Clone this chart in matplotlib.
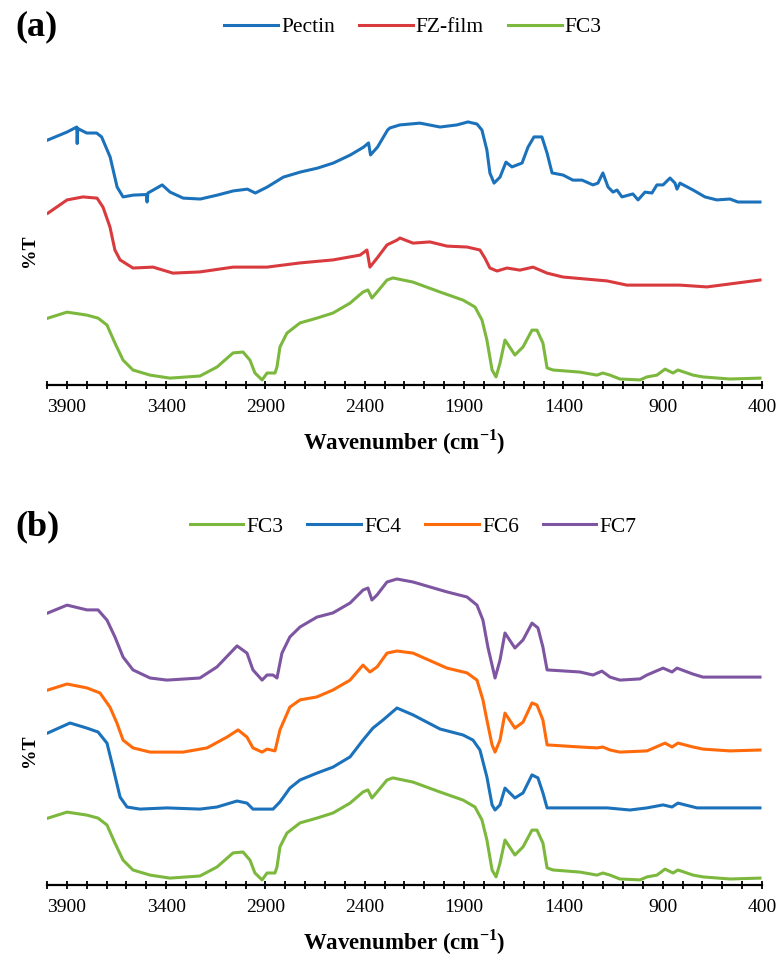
import matplotlib.pyplot as plt
from matplotlib.ticker import MultipleLocator, FixedLocator

plt.rcParams['font.family'] = 'Liberation Serif'
plt.rcParams['mathtext.fontset'] = 'custom'
plt.rcParams['mathtext.rm'] = 'Liberation Serif'
plt.rcParams['mathtext.bf'] = 'Liberation Serif:bold'

# FTIR spectra, wavenumber (cm-1) and stacked %T (arbitrary offset units)
pectin_wn = [3995, 3900, 3850, 3848, 3845, 3800, 3750, 3725, 3682, 3647, 3617, 3566, 3500, 3496, 3492,
             3465, 3420, 3380, 3314, 3228, 3143, 3062, 2991, 2951, 2891, 2810, 2724, 2638, 2558, 2472,
             2406, 2381, 2371, 2336, 2285, 2273, 2223, 2122, 2021, 1936, 1880, 1835, 1810, 1785,
             1770, 1749, 1719, 1689, 1659, 1608, 1578, 1548, 1508, 1482, 1457, 1402, 1352, 1306,
             1251, 1226, 1201, 1175, 1150, 1130, 1105, 1050, 1024, 989, 954, 929, 898, 863, 838, 828,
             813, 747, 687, 627, 561, 521, 476, 410]
pectin_t = [81.7, 84.3, 86, 80.5, 85.5, 84, 84, 82.7, 76, 66, 62.7, 63.3, 63.5, 61, 64,
            65, 66.7, 64.3, 62.3, 62, 63.3, 64.7, 65.3, 64, 66, 69.3, 71, 72.3, 74, 76.7,
            79.3, 80.7, 76.7, 79.3, 85, 85.7, 86.7, 87.3, 86, 86.7, 87.7, 87, 85, 78.3,
            70.7, 67.3, 69.3, 74.3, 72.7, 74, 79.3, 82.7, 82.7, 77.3, 70.7, 70, 68.3, 68.3,
            66.7, 67.3, 70.7, 66, 64.3, 65, 62.7, 63.7, 61.7, 64.3, 64, 66.7, 66.7, 69, 67.3, 65.3,
            67.3, 65, 62.7, 61.7, 62, 61, 61, 61]

fz_wn = [3995, 3899, 3819, 3748, 3718, 3683, 3658, 3632, 3567, 3466, 3366, 3230, 3063, 2963,
         2892, 2726, 2560, 2424, 2389, 2374, 2338, 2288, 2238, 2223, 2157, 2072, 1986, 1885,
         1820, 1795, 1770, 1734, 1684, 1619, 1553, 1482, 1402, 1180, 1080, 979, 813, 677, 561, 410]
fz_t = [57.3, 61.7, 62.7, 62.3, 59.3, 52.7, 45, 41.7, 39, 39.3, 37.3, 37.7, 39.3, 39.3,
        39.3, 40.7, 41.7, 43.3, 45, 39.3, 42.3, 46.7, 48.3, 49, 47.3, 47.7, 46.3, 46,
        45, 42.3, 39, 38, 39, 38.3, 39.3, 37.3, 36, 34.7, 33.3, 33.3, 33.3, 32.7, 33.7, 35]

fc3_wn = [3995, 3899, 3799, 3743, 3698, 3658, 3617, 3567, 3481, 3381, 3230, 3144, 3063, 3013,
          2978, 2953, 2917, 2892, 2852, 2842, 2827, 2792, 2726, 2641, 2560, 2474, 2409, 2384,
          2364, 2338, 2288, 2258, 2157, 2021, 1905, 1845, 1810, 1785, 1759, 1739, 1719, 1694,
          1644, 1603, 1558, 1533, 1503, 1482, 1452, 1316, 1231, 1201, 1165, 1115, 1014, 979,
          929, 888, 848, 823, 747, 697, 561, 410]
fc3_t = [22.3, 24.3, 23.3, 22.3, 20, 14, 8.3, 5, 3.3, 2.3, 3, 6, 10.7, 11,
         8.3, 4, 1.7, 4, 4, 6, 12.7, 17.3, 20.7, 22.3, 24, 27.3, 31, 31.7,
         29, 31, 35, 35.7, 34.3, 31, 28.3, 26, 21.7, 15, 5, 2.7, 7.3, 15,
         10, 12.7, 18.3, 18.3, 14, 5.7, 5, 4.3, 3.3, 4, 3.3, 2, 1.7, 2.7,
         3.3, 5.3, 4, 5, 3.3, 2.7, 2, 2.3]

fc4_wn = [3995, 3884, 3799, 3743, 3698, 3668, 3632, 3597, 3532, 3396, 3230, 3144, 3043, 2993,
          2963, 2862, 2827, 2777, 2726, 2641, 2560, 2474, 2409, 2359, 2308, 2238, 2157, 2021,
          1905, 1855, 1820, 1785, 1759, 1744, 1719, 1694, 1644, 1603, 1558, 1528, 1503, 1482,
          1316, 1180, 1065, 979, 898, 853, 823, 727, 410]
fc4_t = [50.7, 54, 52.3, 51, 47.3, 39.3, 29.3, 26, 25.3, 25.7, 25.3, 26, 28, 27.3,
         25.3, 25.3, 27.7, 32.3, 35, 37.3, 39.3, 42.7, 48.3, 52.3, 55, 59, 56.7, 52,
         50, 48.3, 45, 36, 26.7, 25, 26.7, 32.3, 29, 30.7, 36.7, 35.7, 30.7, 25.7,
         25.7, 25.7, 25, 25.7, 26.7, 26, 27.3, 25.7, 25.7]

fc6_wn = [3995, 3899, 3799, 3733, 3683, 3648, 3617, 3567, 3481, 3315, 3194, 3094, 3038, 2993,
          2963, 2917, 2892, 2852, 2827, 2777, 2726, 2641, 2560, 2474, 2409, 2374, 2338, 2288,
          2238, 2157, 1986, 1885, 1835, 1805, 1785, 1759, 1744, 1719, 1694, 1644, 1603, 1558,
          1533, 1503, 1482, 1316, 1231, 1201, 1165, 1115, 979, 888, 853, 823, 747, 697, 561, 410]
fc6_t = [65, 67, 65.7, 64, 59.3, 54, 48.3, 45.7, 44.3, 44.3, 45.7, 49.3, 51.7, 49.3,
         45.7, 44.3, 45.3, 44.7, 51.7, 59.3, 61.7, 62.7, 65, 68.3, 73.3, 71, 72.7, 77.3,
         78, 77.3, 72.3, 70.7, 68.3, 61.7, 55, 46.7, 44.3, 48.3, 57.3, 52.3, 54.3, 60.7,
         60, 55, 46.7, 46, 45.7, 46, 45, 44.3, 44.7, 47.3, 46, 47.3, 46, 45.3, 44.7, 45]

fc7_wn = [3995, 3899, 3799, 3743, 3698, 3658, 3617, 3567, 3481, 3396, 3230, 3144, 3043, 2993,
          2963, 2917, 2892, 2862, 2842, 2817, 2777, 2726, 2641, 2560, 2474, 2409, 2384, 2364,
          2338, 2288, 2238, 2157, 1986, 1885, 1835, 1805, 1780, 1744, 1719, 1694, 1644, 1603,
          1558, 1528, 1503, 1482, 1316, 1251, 1206, 1165, 1115, 1014, 979, 898, 853, 828, 747,
          697, 561, 410]
fc7_t = [90.7, 93.3, 91.7, 91.7, 88.3, 82.7, 76, 71.7, 69, 68.3, 69, 72.7, 79.7, 77.3,
         71.7, 68.3, 70, 70, 69, 77.3, 82.7, 86, 89.3, 90.7, 94, 98.3, 99, 95,
         96.7, 101, 102, 101, 97.7, 96, 93.3, 88.3, 79.3, 69, 75, 84, 79, 81.7,
         87.3, 85.7, 79.3, 71.7, 71, 70, 71.3, 69.3, 68.3, 68.7, 70, 72.3, 71, 72.3, 70.3,
         69.3, 69.3, 69.3]

BLUE = '#1b72bb'
RED = '#d93a3e'
GREEN = '#7cb83d'
ORANGE = '#ff6a0a'
PURPLE = '#7d55a1'

fig = plt.figure(figsize=(7.78, 9.58), dpi=100)
ax_a = fig.add_axes([0.0604, 0.5981, 0.919, 0.3382])
ax_b = fig.add_axes([0.0604, 0.0762, 0.919, 0.3382])

lw = 2.2
ax_a.plot(pectin_wn, pectin_t, color=BLUE, lw=lw, label='Pectin')
ax_a.plot(fz_wn, fz_t, color=RED, lw=lw, label='FZ-film')
ax_a.plot(fc3_wn, fc3_t, color=GREEN, lw=lw, label='FC3')

ax_b.plot(fc3_wn, fc3_t, color=GREEN, lw=lw, label='FC3')
ax_b.plot(fc4_wn, fc4_t, color=BLUE, lw=lw, label='FC4')
ax_b.plot(fc6_wn, fc6_t, color=ORANGE, lw=lw, label='FC6')
ax_b.plot(fc7_wn, fc7_t, color=PURPLE, lw=lw, label='FC7')

for ax in (ax_a, ax_b):
    ax.set_xlim(4000, 400)
    ax.set_ylim(0, 108)
    for s in ('top', 'right', 'left'):
        ax.spines[s].set_visible(False)
    ax.spines['bottom'].set_linewidth(1.6)
    ax.set_yticks([])
    ax.xaxis.set_major_locator(FixedLocator([3900, 3400, 2900, 2400, 1900, 1400, 900, 400]))
    ax.xaxis.set_minor_locator(MultipleLocator(100))
    ax.tick_params(axis='x', which='both', direction='inout', length=6, width=1.3,
                   labelsize=14, pad=7)
    ax.set_xlabel('Wavenumber (cm$^{\\mathbf{-1}}$)', fontsize=16.5, fontweight='bold', labelpad=8)
    ax.set_ylabel('%T', fontsize=14, fontweight='bold')
    ax.yaxis.set_label_coords(-0.012, 0.415)
    ax.legend(loc='center', bbox_to_anchor=(0.512, 1.105), ncol=4, frameon=False,
              fontsize=15.5, handlelength=2.5, handletextpad=0.15, columnspacing=1.1)

fig.text(15 / 778, 1 - 27 / 958, '(a)', fontsize=26, fontweight='bold', va='center', ha='left')
fig.text(15 / 778, 1 - 527 / 958, '(b)', fontsize=26, fontweight='bold', va='center', ha='left')

fig.savefig('out.png', dpi=100)
